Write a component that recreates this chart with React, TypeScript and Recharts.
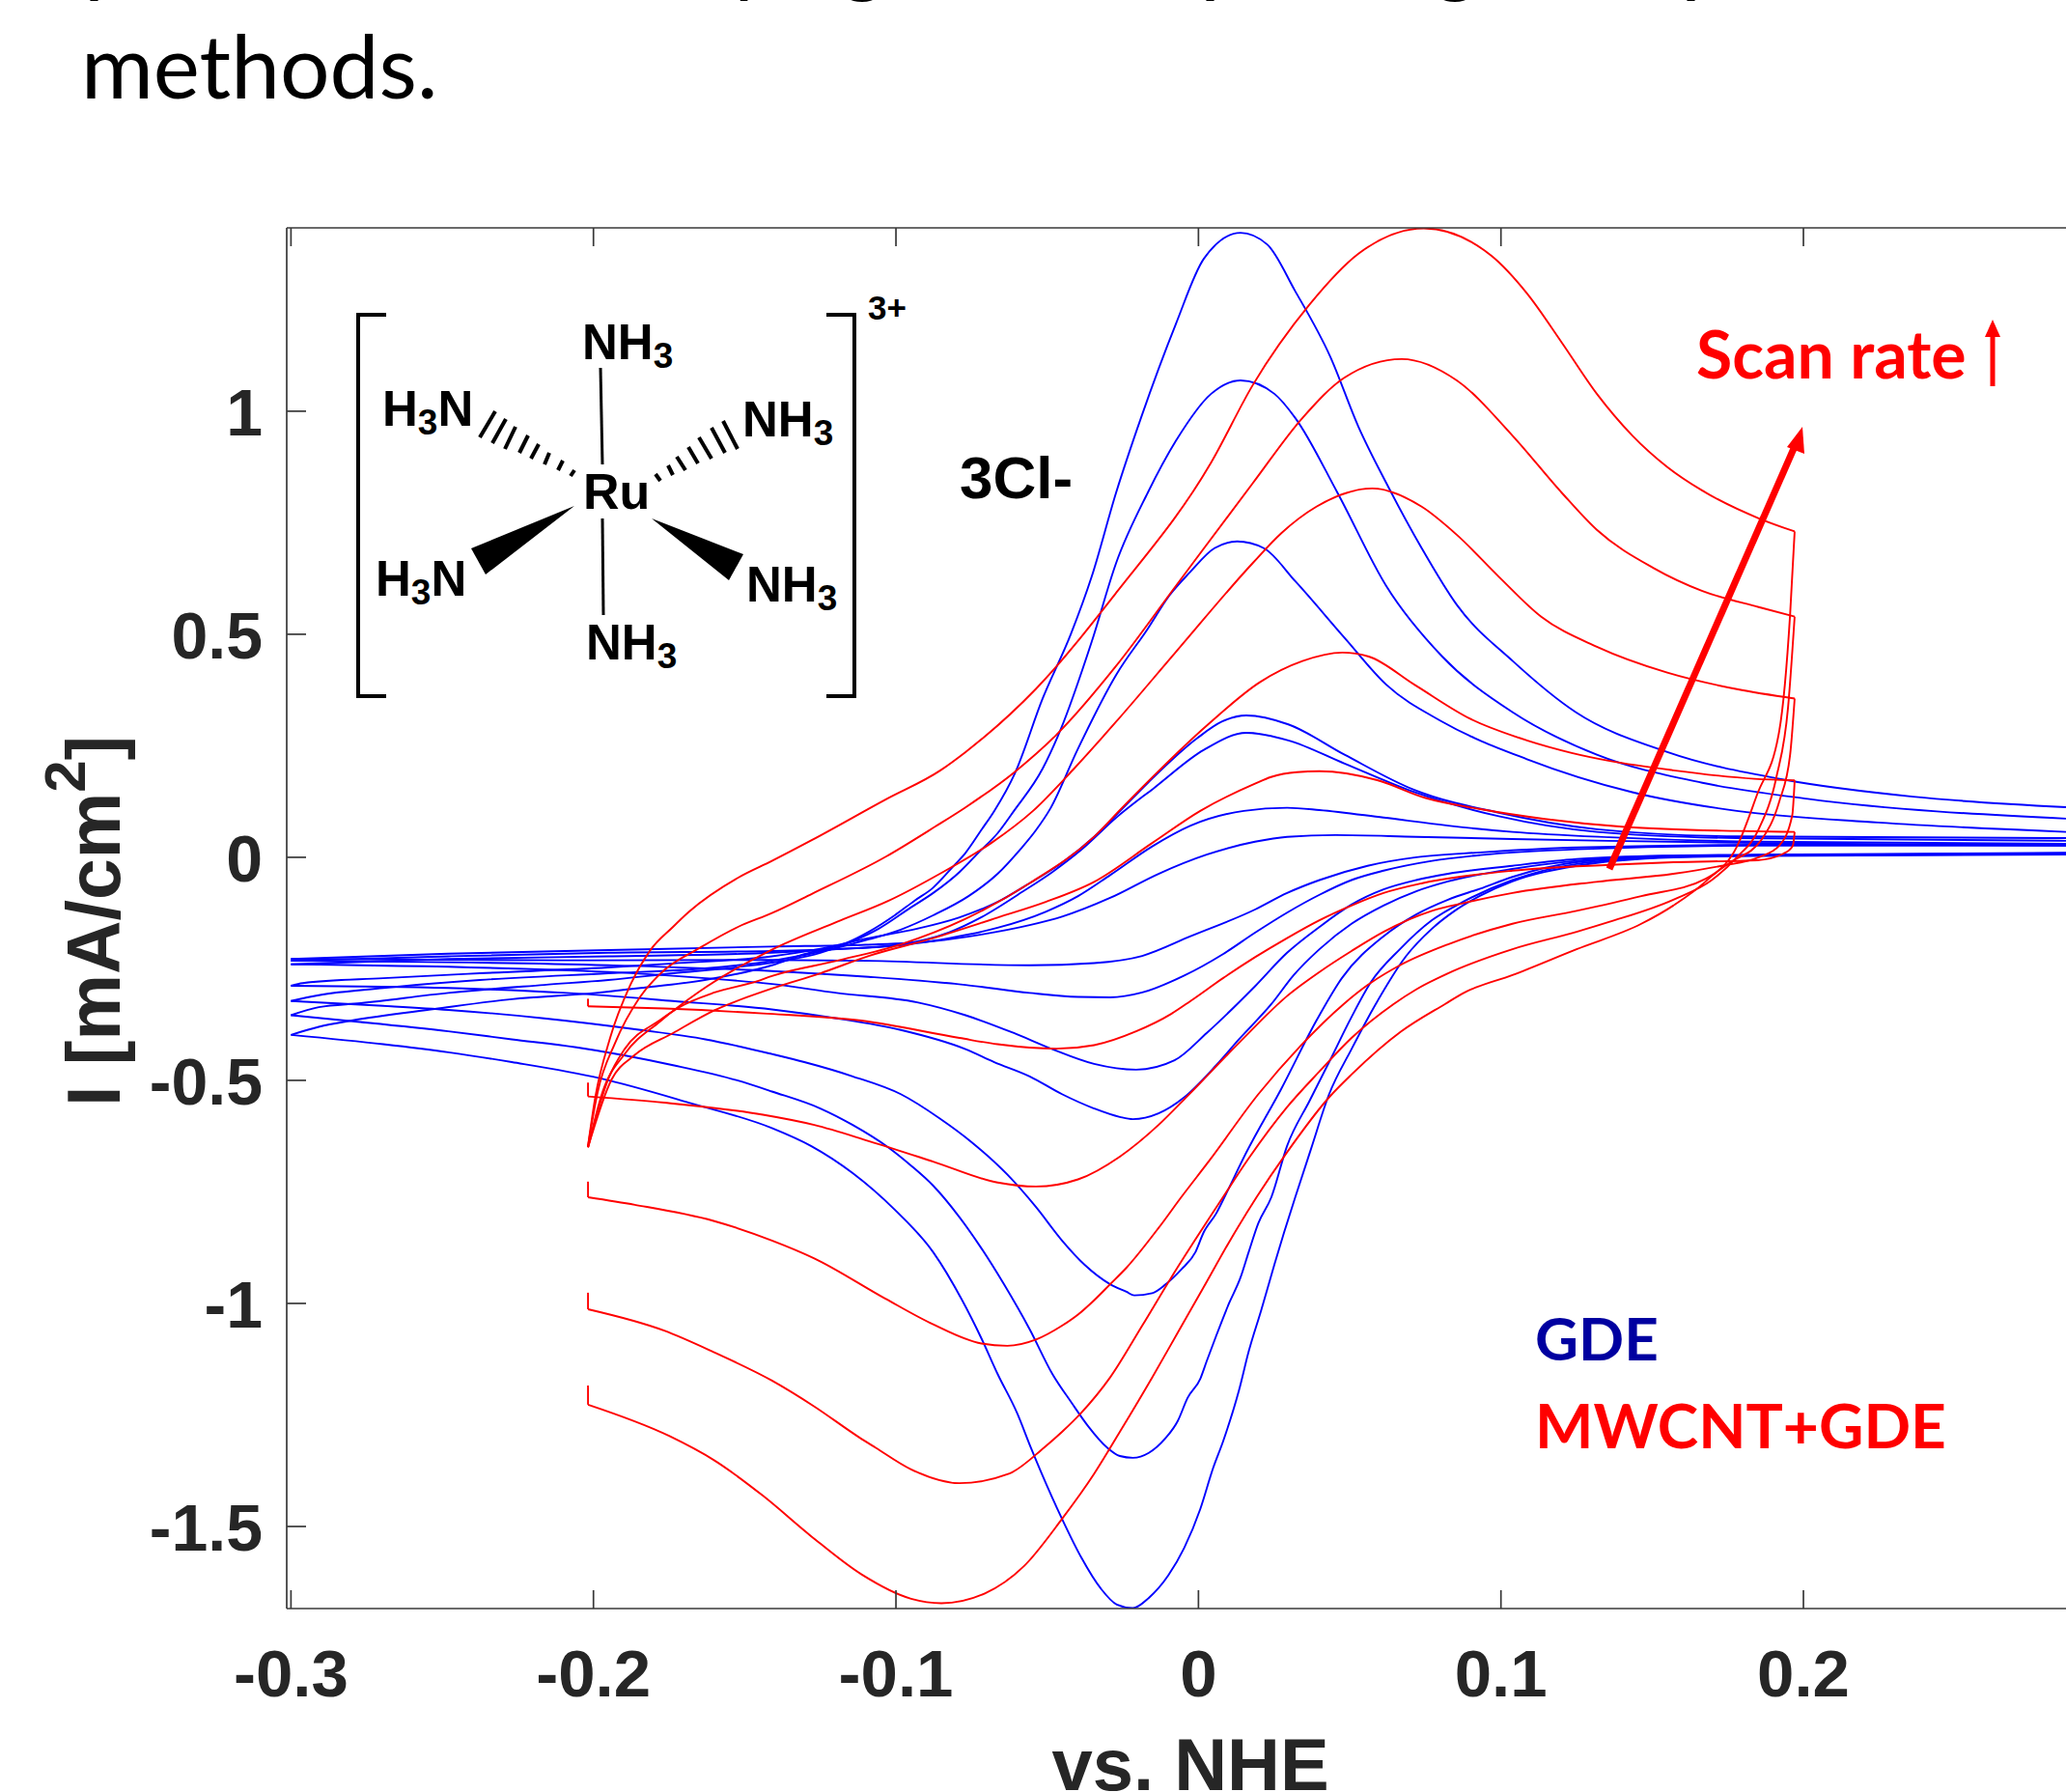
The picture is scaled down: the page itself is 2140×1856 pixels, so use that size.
import { LineChart, Line, XAxis, YAxis } from 'recharts'

type Pair = [number, number]

// potential (V vs. NHE), current density (mA/cm2)
const gdeOxA: Pair[] = [[-0.3,-0.398],[-0.2908,-0.38],[-0.28,-0.366],[-0.2525,-0.34],[-0.227,-0.318],[-0.1993,-0.304],[-0.1844,-0.293],[-0.1632,-0.275],[-0.141,-0.242],[-0.1303,-0.217],[-0.1164,-0.192],[-0.109,-0.167],[-0.1004,-0.13],[-0.094,-0.098],[-0.0877,-0.068],[-0.0813,-0.022],[-0.077,0.01],[-0.0717,0.062],[-0.0675,0.104],[-0.0607,0.188],[-0.0515,0.356],[-0.0422,0.5],[-0.0353,0.629],[-0.0272,0.818],[-0.019,0.985],[-0.0075,1.195],[0.0018,1.342],[0.0139,1.4],[0.0227,1.374],[0.032,1.269],[0.0436,1.122],[0.0529,0.965],[0.0621,0.839],[0.0738,0.693],[0.0854,0.566],[0.1039,0.44],[0.1248,0.325],[0.155,0.236],[0.1945,0.173],[0.2362,0.136],[0.2868,0.1125]]
const gdeOxB: Pair[] = [[-0.3,-0.354],[-0.2908,-0.336],[-0.2769,-0.327],[-0.248,-0.304],[-0.2163,-0.286],[-0.1951,-0.275],[-0.1737,-0.26],[-0.1524,-0.246],[-0.1355,-0.23],[-0.125,-0.214],[-0.1143,-0.188],[-0.1057,-0.16],[-0.0952,-0.113],[-0.0877,-0.08],[-0.079,-0.033],[-0.0728,0.01],[-0.0664,0.054],[-0.061,0.104],[-0.0515,0.199],[-0.0457,0.284],[-0.0353,0.483],[-0.0272,0.66],[-0.0167,0.818],[-0.0075,0.933],[0.0042,1.039],[0.0139,1.069],[0.0251,1.039],[0.032,0.985],[0.0459,0.818],[0.0621,0.608],[0.0806,0.45],[0.1039,0.325],[0.1317,0.23],[0.1666,0.167],[0.2014,0.131],[0.2868,0.0866]]
const gdeOxC: Pair[] = [[-0.3,-0.322],[-0.2908,-0.309],[-0.2695,-0.293],[-0.2376,-0.275],[-0.1951,-0.26],[-0.1632,-0.249],[-0.141,-0.232],[-0.1196,-0.203],[-0.109,-0.184],[-0.0984,-0.162],[-0.0877,-0.13],[-0.076,-0.087],[-0.0664,-0.037],[-0.059,0.017],[-0.0537,0.061],[-0.0489,0.11],[-0.04,0.241],[-0.0272,0.409],[-0.0167,0.513],[-0.0096,0.587],[-0.0028,0.639],[0.0053,0.693],[0.0128,0.708],[0.0216,0.693],[0.032,0.619],[0.0483,0.492],[0.0621,0.387],[0.0806,0.304],[0.1086,0.22],[0.1434,0.146],[0.178,0.104],[0.2246,0.078],[0.2868,0.057]]
const gdeOxD: Pair[] = [[-0.3,-0.288],[-0.2961,-0.282],[-0.2695,-0.271],[-0.2376,-0.26],[-0.1951,-0.247],[-0.1737,-0.238],[-0.141,-0.222],[-0.125,-0.205],[-0.109,-0.181],[-0.093,-0.16],[-0.0792,-0.135],[-0.0664,-0.1],[-0.0558,-0.058],[-0.0451,-0.012],[-0.0345,0.046],[-0.027,0.096],[-0.0167,0.167],[-0.0004,0.267],[0.0077,0.304],[0.0158,0.318],[0.0297,0.298],[0.0483,0.23],[0.0714,0.151],[0.0993,0.1],[0.1317,0.063],[0.178,0.047],[0.2868,0.043]]
const gdeOxE: Pair[] = [[-0.3,-0.24],[-0.248,-0.228],[-0.195,-0.222],[-0.141,-0.214],[-0.1195,-0.206],[-0.0984,-0.195],[-0.0824,-0.168],[-0.0717,-0.134],[-0.0579,-0.076],[-0.0483,-0.033],[-0.0387,0.017],[-0.027,0.09],[-0.0144,0.157],[0.0018,0.241],[0.0158,0.279],[0.0297,0.262],[0.0483,0.21],[0.0714,0.146],[0.0993,0.092],[0.1317,0.057],[0.178,0.043],[0.2868,0.037]]
const gdeOxF: Pair[] = [[-0.3,-0.232],[-0.248,-0.222],[-0.195,-0.214],[-0.141,-0.21],[-0.0984,-0.197],[-0.0824,-0.181],[-0.0664,-0.158],[-0.0505,-0.122],[-0.0398,-0.087],[-0.0292,-0.04],[-0.0154,0.024],[-0.0026,0.071],[0.015,0.104],[0.0293,0.111],[0.04,0.106],[0.0612,0.089],[0.0825,0.071],[0.1038,0.057],[0.1357,0.045],[0.1847,0.035],[0.2868,0.03]]
const gdeOxG: Pair[] = [[-0.3,-0.228],[-0.248,-0.216],[-0.195,-0.208],[-0.141,-0.2],[-0.11,-0.196],[-0.0877,-0.188],[-0.0717,-0.173],[-0.0558,-0.152],[-0.0451,-0.133],[-0.0292,-0.091],[-0.0132,-0.037],[0.0027,0.006],[0.0187,0.035],[0.0293,0.046],[0.0453,0.05],[0.072,0.046],[0.1038,0.041],[0.1357,0.037],[0.1847,0.032],[0.2868,0.026]]

const gdeRedA: Pair[] = [[-0.3,-0.398],[-0.2695,-0.419],[-0.248,-0.437],[-0.227,-0.459],[-0.198,-0.495],[-0.1684,-0.55],[-0.141,-0.607],[-0.1281,-0.647],[-0.1143,-0.708],[-0.1004,-0.79],[-0.0877,-0.885],[-0.0781,-0.993],[-0.0717,-1.079],[-0.0664,-1.158],[-0.06,-1.245],[-0.0553,-1.325],[-0.0451,-1.483],[-0.0387,-1.57],[-0.0323,-1.639],[-0.027,-1.675],[-0.0217,-1.683],[-0.0164,-1.66],[-0.01,-1.61],[-0.0047,-1.548],[0.0006,-1.461],[0.0049,-1.368],[0.0081,-1.31],[0.0134,-1.195],[0.0166,-1.108],[0.0208,-1.014],[0.0251,-0.913],[0.0283,-0.841],[0.032,-0.762],[0.0372,-0.654],[0.0432,-0.531],[0.0506,-0.43],[0.0586,-0.329],[0.0687,-0.221],[0.0772,-0.16],[0.0847,-0.12],[0.0932,-0.086],[0.1038,-0.054],[0.125,-0.019],[0.157,0],[0.1847,0.003],[0.2868,0.006]]
const gdeRedB: Pair[] = [[-0.3,-0.354],[-0.2788,-0.368],[-0.248,-0.39],[-0.227,-0.408],[-0.2056,-0.426],[-0.1737,-0.466],[-0.1525,-0.5],[-0.141,-0.525],[-0.125,-0.563],[-0.1143,-0.6],[-0.1026,-0.65],[-0.0952,-0.69],[-0.0877,-0.736],[-0.0792,-0.805],[-0.0717,-0.877],[-0.0643,-0.957],[-0.0558,-1.058],[-0.0483,-1.158],[-0.0419,-1.223],[-0.0366,-1.274],[-0.0302,-1.323],[-0.026,-1.342],[-0.0217,-1.346],[-0.0164,-1.335],[-0.011,-1.303],[-0.0068,-1.263],[-0.0036,-1.212],[0.0006,-1.169],[0.0027,-1.13],[0.0059,-1.072],[0.0101,-1],[0.0139,-0.942],[0.0166,-0.885],[0.0198,-0.82],[0.0241,-0.762],[0.0293,-0.647],[0.0368,-0.545],[0.0432,-0.459],[0.0506,-0.358],[0.057,-0.28],[0.0666,-0.206],[0.0772,-0.141],[0.088,-0.098],[0.1038,-0.051],[0.125,-0.015],[0.157,0.001],[0.1847,0.004],[0.2868,0.007]]
const gdeRedC: Pair[] = [[-0.3,-0.322],[-0.2695,-0.333],[-0.248,-0.342],[-0.2163,-0.361],[-0.1844,-0.387],[-0.163,-0.408],[-0.141,-0.441],[-0.1303,-0.459],[-0.1143,-0.491],[-0.0984,-0.531],[-0.0856,-0.585],[-0.0749,-0.639],[-0.0632,-0.711],[-0.0537,-0.784],[-0.0451,-0.859],[-0.0377,-0.913],[-0.0292,-0.957],[-0.0238,-0.974],[-0.0212,-0.982],[-0.0153,-0.977],[-0.011,-0.958],[-0.0057,-0.924],[-0.001,-0.885],[0.0017,-0.841],[0.0059,-0.798],[0.0091,-0.755],[0.0158,-0.662],[0.0273,-0.52],[0.039,-0.366],[0.0474,-0.271],[0.0612,-0.177],[0.072,-0.128],[0.0825,-0.095],[0.0932,-0.07],[0.1038,-0.044],[0.125,-0.011],[0.157,0.002],[0.1847,0.005],[0.2868,0.008]]
const gdeRedD: Pair[] = [[-0.3,-0.288],[-0.248,-0.293],[-0.2089,-0.304],[-0.1737,-0.322],[-0.141,-0.341],[-0.1196,-0.361],[-0.0984,-0.387],[-0.077,-0.43],[-0.0675,-0.459],[-0.0558,-0.491],[-0.0451,-0.531],[-0.0345,-0.563],[-0.026,-0.582],[-0.0217,-0.587],[-0.0132,-0.574],[-0.0047,-0.538],[0.0059,-0.466],[0.0134,-0.408],[0.0241,-0.329],[0.0315,-0.264],[0.04,-0.206],[0.0506,-0.149],[0.0612,-0.108],[0.072,-0.076],[0.0825,-0.054],[0.1038,-0.026],[0.125,-0.008],[0.157,0.003],[0.1847,0.005],[0.2868,0.009]]
const gdeRedE: Pair[] = [[-0.3,-0.24],[-0.1951,-0.257],[-0.163,-0.271],[-0.141,-0.284],[-0.1196,-0.304],[-0.093,-0.325],[-0.077,-0.354],[-0.061,-0.394],[-0.0483,-0.43],[-0.0345,-0.463],[-0.0206,-0.476],[-0.0079,-0.455],[0.0027,-0.394],[0.0187,-0.289],[0.0293,-0.214],[0.04,-0.156],[0.0506,-0.106],[0.0612,-0.072],[0.072,-0.051],[0.0825,-0.037],[0.1038,-0.019],[0.125,-0.004],[0.157,0.004],[0.1847,0.006],[0.2868,0.01]]
const gdeRedF: Pair[] = [[-0.3,-0.232],[-0.1951,-0.242],[-0.141,-0.255],[-0.109,-0.268],[-0.077,-0.286],[-0.0558,-0.304],[-0.0398,-0.313],[-0.0292,-0.314],[-0.0186,-0.303],[-0.0047,-0.265],[0.0081,-0.217],[0.0187,-0.169],[0.0293,-0.124],[0.04,-0.084],[0.0506,-0.051],[0.0612,-0.03],[0.0772,-0.008],[0.0932,0.005],[0.125,0.018],[0.1847,0.026],[0.2868,0.026]]
const gdeRedG: Pair[] = [[-0.3,-0.228],[-0.2,-0.231],[-0.141,-0.23],[-0.109,-0.232],[-0.0558,-0.242],[-0.0345,-0.237],[-0.0186,-0.221],[-0.0026,-0.177],[0.0187,-0.117],[0.0293,-0.08],[0.04,-0.051],[0.0559,-0.019],[0.072,0],[0.0932,0.011],[0.125,0.022],[0.1847,0.028],[0.2868,0.028]]

const cntOxA: Pair[] = [[-0.2018,-0.65],[-0.194,-0.498],[-0.1865,-0.444],[-0.1737,-0.394],[-0.16,-0.343],[-0.1418,-0.296],[-0.125,-0.26],[-0.109,-0.221],[-0.0877,-0.181],[-0.0664,-0.135],[-0.0505,-0.1],[-0.0345,-0.055],[-0.0153,0.032],[0.0006,0.104],[0.0187,0.165],[0.024,0.18],[0.0325,0.191],[0.04,0.193],[0.0591,0.173],[0.0751,0.133],[0.0932,0.108],[0.1145,0.086],[0.141,0.068],[0.178,0.059],[0.1971,0.057]]
const cntOxB: Pair[] = [[-0.2018,-0.65],[-0.195,-0.495],[-0.1897,-0.43],[-0.178,-0.365],[-0.1716,-0.336],[-0.16,-0.303],[-0.146,-0.278],[-0.141,-0.266],[-0.1196,-0.232],[-0.0984,-0.195],[-0.077,-0.138],[-0.0558,-0.058],[-0.0345,0.046],[-0.0254,0.11],[0.0032,0.298],[0.0204,0.393],[0.0344,0.44],[0.0476,0.459],[0.0563,0.45],[0.0714,0.387],[0.09,0.31],[0.1086,0.262],[0.1234,0.234],[0.136,0.216],[0.157,0.195],[0.1837,0.176],[0.1971,0.1725]]
const cntOxC: Pair[] = [[-0.2018,-0.65],[-0.197,-0.526],[-0.1897,-0.441],[-0.178,-0.368],[-0.165,-0.301],[-0.141,-0.207],[-0.1196,-0.145],[-0.1026,-0.098],[-0.0855,-0.037],[-0.0685,0.032],[-0.0547,0.104],[-0.0411,0.199],[-0.0272,0.304],[-0.0075,0.46],[0.018,0.66],[0.0273,0.726],[0.039,0.786],[0.0575,0.827],[0.0738,0.786],[0.0854,0.723],[0.0993,0.629],[0.1132,0.54],[0.1317,0.472],[0.155,0.414],[0.178,0.377],[0.1971,0.356]]
const cntOxD: Pair[] = [[-0.2018,-0.647],[-0.1986,-0.526],[-0.1929,-0.417],[-0.1847,-0.314],[-0.1766,-0.253],[-0.1651,-0.204],[-0.1522,-0.156],[-0.141,-0.125],[-0.1278,-0.082],[-0.1032,0.002],[-0.087,0.069],[-0.077,0.112],[-0.061,0.19],[-0.0469,0.275],[-0.0272,0.429],[-0.0075,0.608],[0.018,0.839],[0.0344,0.985],[0.0482,1.075],[0.0672,1.117],[0.0854,1.069],[0.104,0.944],[0.12,0.818],[0.1317,0.734],[0.1503,0.649],[0.1666,0.597],[0.1852,0.561],[0.1971,0.5396]]
const cntOxE: Pair[] = [[-0.2018,-0.647],[-0.1994,-0.538],[-0.1945,-0.405],[-0.188,-0.289],[-0.1814,-0.21],[-0.1737,-0.156],[-0.1684,-0.122],[-0.152,-0.045],[-0.141,-0.008],[-0.1277,0.039],[-0.1033,0.13],[-0.0853,0.195],[-0.077,0.236],[-0.0538,0.377],[-0.0272,0.593],[0.0042,0.885],[0.018,1.059],[0.0366,1.238],[0.0529,1.353],[0.0745,1.41],[0.0969,1.348],[0.1086,1.264],[0.1202,1.153],[0.1317,1.039],[0.1435,0.945],[0.155,0.875],[0.1666,0.822],[0.1852,0.76],[0.1971,0.7305]]

const cntRedA: Pair[] = [[-0.2018,-0.334],[-0.1766,-0.339],[-0.144,-0.35],[-0.1115,-0.366],[-0.079,-0.405],[-0.0664,-0.419],[-0.047,-0.429],[-0.0345,-0.421],[-0.0206,-0.39],[-0.009,-0.351],[-0.0026,-0.322],[0.0081,-0.271],[0.0187,-0.224],[0.0293,-0.181],[0.04,-0.141],[0.0506,-0.108],[0.0612,-0.08],[0.074,-0.058],[0.1038,-0.03],[0.1357,-0.017],[0.157,-0.011],[0.1847,-0.0065],[0.1933,0.008],[0.1965,0.026],[0.1971,0.057]]
const cntRedB: Pair[] = [[-0.2018,-0.536],[-0.1766,-0.55],[-0.144,-0.577],[-0.127,-0.6],[-0.109,-0.636],[-0.0877,-0.682],[-0.0664,-0.729],[-0.0537,-0.738],[-0.0398,-0.722],[-0.026,-0.671],[-0.0132,-0.6],[-0.0036,-0.535],[0.0134,-0.416],[0.0293,-0.311],[0.04,-0.257],[0.0506,-0.21],[0.0612,-0.167],[0.0772,-0.12],[0.088,-0.102],[0.1038,-0.08],[0.1315,-0.055],[0.157,-0.037],[0.173,-0.019],[0.1852,0],[0.192,0.026],[0.1963,0.094],[0.1971,0.1725]]
const cntRedC: Pair[] = [[-0.2018,-0.762],[-0.1863,-0.779],[-0.1603,-0.815],[-0.141,-0.859],[-0.127,-0.899],[-0.1036,-0.989],[-0.0877,-1.047],[-0.0717,-1.09],[-0.0632,-1.095],[-0.0537,-1.081],[-0.0451,-1.05],[-0.0398,-1.025],[-0.0345,-0.993],[-0.0292,-0.957],[-0.0238,-0.92],[-0.0132,-0.831],[-0.0057,-0.762],[0.0037,-0.679],[0.0198,-0.531],[0.0337,-0.423],[0.048,-0.329],[0.056,-0.286],[0.0666,-0.242],[0.0825,-0.195],[0.1038,-0.149],[0.125,-0.12],[0.1464,-0.087],[0.1677,-0.048],[0.1759,-0.011],[0.1863,0.041],[0.192,0.125],[0.1956,0.23],[0.1971,0.356]]
const cntRedD: Pair[] = [[-0.2018,-1.013],[-0.1766,-1.061],[-0.1603,-1.109],[-0.141,-1.173],[-0.127,-1.231],[-0.1122,-1.3],[-0.1068,-1.323],[-0.095,-1.372],[-0.079,-1.403],[-0.0627,-1.382],[-0.051,-1.323],[-0.0451,-1.288],[-0.0387,-1.245],[-0.0292,-1.166],[-0.0186,-1.05],[-0.009,-0.942],[0.0081,-0.762],[0.0166,-0.675],[0.0293,-0.56],[0.04,-0.48],[0.0506,-0.405],[0.0645,-0.329],[0.072,-0.296],[0.0825,-0.26],[0.1038,-0.206],[0.125,-0.167],[0.1357,-0.145],[0.157,-0.095],[0.1697,-0.051],[0.178,0],[0.1852,0.063],[0.191,0.178],[0.1949,0.335],[0.1971,0.5396]]
const cntRedE: Pair[] = [[-0.2018,-1.227],[-0.175,-1.297],[-0.16,-1.352],[-0.144,-1.431],[-0.128,-1.522],[-0.1115,-1.607],[-0.095,-1.662],[-0.085,-1.672],[-0.0706,-1.65],[-0.0577,-1.589],[-0.0451,-1.483],[-0.0345,-1.382],[-0.026,-1.288],[-0.0153,-1.166],[-0.0068,-1.065],[0.0017,-0.964],[0.0101,-0.863],[0.0192,-0.762],[0.0293,-0.661],[0.0432,-0.538],[0.0506,-0.487],[0.0669,-0.391],[0.0815,-0.329],[0.088,-0.303],[0.1038,-0.264],[0.125,-0.206],[0.1464,-0.149],[0.157,-0.108],[0.1677,-0.054],[0.178,0.024],[0.1847,0.141],[0.192,0.283],[0.1956,0.545],[0.1971,0.7305]]

// short vertical stubs where the red loops start
const hookA: Pair[] = [[-0.2018,-0.317],[-0.2018,-0.334]]
const hookB: Pair[] = [[-0.2018,-0.505],[-0.2018,-0.536]]
const hookC: Pair[] = [[-0.2018,-0.727],[-0.2018,-0.762]]
const hookD: Pair[] = [[-0.2018,-0.976],[-0.2018,-1.013]]
const hookE: Pair[] = [[-0.2018,-1.184],[-0.2018,-1.227]]

const xTicks = [-0.3, -0.2, -0.1, 0, 0.1, 0.2]
const yTicks = [-1.5, -1, -0.5, 0, 0.5, 1]

const gdeCurves = [gdeOxA, gdeOxB, gdeOxC, gdeOxD, gdeOxE, gdeOxF, gdeOxG, gdeRedA, gdeRedB, gdeRedC, gdeRedD, gdeRedE, gdeRedF, gdeRedG]
const cntCurves = [cntOxA, cntOxB, cntOxC, cntOxD, cntOxE, cntRedA, cntRedB, cntRedC, cntRedD, cntRedE]
const hooks = [hookA, hookB, hookC, hookD, hookE]

const toPoints = (pairs: Pair[]) => pairs.map(([x, y]) => ({ x, y }))

const AXIS = '#383838'
const LABEL = '#262626'
const ARIAL = '"Liberation Sans", Arial, sans-serif'
const LATO = 'Lato, sans-serif'

function BottomTick({ x, y, payload }: any) {
  return (
    <g>
      <line x1={x} x2={x} y1={y} y2={y - 19} stroke={AXIS} strokeWidth={1.7} />
      <text x={x} y={y + 91} textAnchor="middle" fontFamily={ARIAL} fontWeight="bold" fontSize={69} fill={LABEL}>
        {payload.value}
      </text>
    </g>
  )
}

function TopTick({ x, y }: any) {
  return <line x1={x} x2={x} y1={y} y2={y + 19} stroke={AXIS} strokeWidth={1.7} />
}

function LeftTick({ x, y, payload }: any) {
  return (
    <g>
      <line x1={x} x2={x + 20} y1={y} y2={y} stroke={AXIS} strokeWidth={1.7} />
      <text x={x - 25} y={y + 25} textAnchor="end" fontFamily={ARIAL} fontWeight="bold" fontSize={68} fill={LABEL}>
        {payload.value}
      </text>
    </g>
  )
}

function Nh3({ x, y, flip }: { x: number; y: number; flip?: boolean }) {
  return (
    <text x={x} y={y} fontFamily={ARIAL} fontWeight="bold" fontSize={51} fill="#000">
      {flip ? 'H' : 'NH'}
      <tspan fontSize={37} dy={9}>3</tspan>
      {flip ? <tspan dy={-9}>N</tspan> : null}
    </text>
  )
}

const leftHashes = [[513,426,497,453],[524,434,510,459],[534,442,523,465],[547,451,538,469],[558,460,550,475],[569,469,564,481],[583,477,578,487],[595,487,591,493]]
const rightHashes = [[749,436,764,465],[737,443,751,469],[724,453,737,475],[713,463,723,480],[701,473,710,487],[692,482,697,492],[679,491,684,498]]

function Overlay() {
  return (
    <svg width={2140} height={1856} style={{ position: 'absolute', left: 0, top: 0, pointerEvents: 'none' }}>
      {/* tips of the cut-off line above */}
      <g fontFamily={LATO} fontSize={91} fill="#000">
        <text x={87} y={-15}>p</text>
        <text x={755} y={-15}>y</text>
        <text x={870} y={-15}>g</text>
        <text x={1243} y={-15}>p</text>
        <text x={1484} y={-15}>g</text>
        <text x={1741} y={-15}>p</text>
      </g>
      <text x={84} y={102} fontFamily={LATO} fontSize={91} fill="#000">methods.</text>

      <path d="M400 326H371V721H400" fill="none" stroke="#000" strokeWidth={4} />
      <path d="M856 326H885V721H856" fill="none" stroke="#000" strokeWidth={4} />
      <text x={899} y={331} fontFamily={ARIAL} fontWeight="bold" fontSize={35} fill="#000">3+</text>
      <Nh3 x={603} y={372} />
      <Nh3 x={396} y={441} flip />
      <Nh3 x={769} y={452} />
      <Nh3 x={389} y={617} flip />
      <Nh3 x={773} y={623} />
      <Nh3 x={607} y={683} />
      <text x={604} y={527} fontFamily={ARIAL} fontWeight="bold" fontSize={52} fill="#000">Ru</text>
      <line x1={622} y1={381} x2={624} y2={481} stroke="#000" strokeWidth={3} />
      <line x1={624} y1={537} x2={625} y2={637} stroke="#000" strokeWidth={3} />
      <polygon points="595,524 488,568 503,595" fill="#000" />
      <polygon points="675,537 770,574 755,601" fill="#000" />
      {[...leftHashes, ...rightHashes].map(([a, b, c, d], i) => (
        <line key={i} x1={a} y1={b} x2={c} y2={d} stroke="#000" strokeWidth={4} />
      ))}
      <text x={994} y={516} fontFamily={ARIAL} fontWeight="bold" fontSize={62} fill="#000">3Cl-</text>

      <text x={1757} y={392} fontFamily={LATO} fontWeight="bold" fontSize={68} fill="#ff0000">Scan rate</text>
      <line x1={2064} y1={348} x2={2064} y2={400} stroke="#ff0000" strokeWidth={5} />
      <polygon points="2064,331 2056,349 2072,349" fill="#ff0000" />
      <line x1={1667} y1={900} x2={1860} y2={460} stroke="#ff0000" strokeWidth={7} />
      <polygon points="1867,442 1851,463 1869,470" fill="#ff0000" />

      <text x={1590} y={1409} fontFamily={LATO} fontWeight="bold" fontSize={62} fill="#0000a0">GDE</text>
      <text x={1590} y={1500} fontFamily={LATO} fontWeight="bold" fontSize={64} fill="#ff0000">MWCNT+GDE</text>

      <text x={1233} y={1854} textAnchor="middle" fontFamily={ARIAL} fontWeight="bold" fontSize={76} fill={LABEL}>vs. NHE</text>
      <text transform="translate(124 1146) rotate(-90)" fontFamily={ARIAL} fontWeight="bold" fontSize={77} fill={LABEL}>
        I [mA/cm<tspan fontSize={60} dy={-36}>2</tspan><tspan dy={36}>]</tspan>
      </text>
    </svg>
  )
}

export default function App() {
  return (
    <div style={{ position: 'absolute', left: 0, top: 0, width: 2140, height: 1856, overflow: 'hidden', background: '#fff' }}>
      <LineChart width={2140} height={1856} margin={{ top: 0, right: 0, bottom: 0, left: 0 }}>
        <XAxis
          dataKey="x"
          type="number"
          domain={[-0.3014, 0.2868]}
          ticks={xTicks}
          interval={0}
          height={190}
          allowDataOverflow
          stroke={AXIS}
          strokeWidth={1.7}
          tickLine={false}
          tickSize={0}
          tickMargin={0}
          tick={<BottomTick />}
        />
        <XAxis
          xAxisId="top"
          orientation="top"
          dataKey="x"
          type="number"
          domain={[-0.3014, 0.2868]}
          ticks={xTicks}
          interval={0}
          height={236}
          allowDataOverflow
          stroke={AXIS}
          strokeWidth={1.7}
          tickLine={false}
          tickSize={0}
          tickMargin={0}
          tick={<TopTick />}
        />
        <YAxis
          type="number"
          domain={[-1.684, 1.411]}
          ticks={yTicks}
          interval={0}
          width={297}
          allowDataOverflow
          stroke={AXIS}
          strokeWidth={1.7}
          tickLine={false}
          tickSize={0}
          tickMargin={0}
          tick={<LeftTick />}
        />
        {gdeCurves.map((curve, i) => (
          <Line key={`gde-${i}`} data={toPoints(curve)} dataKey="y" type="monotone" stroke="#0000ff" strokeWidth={1.9} dot={false} activeDot={false} isAnimationActive={false} />
        ))}
        {cntCurves.map((curve, i) => (
          <Line key={`cnt-${i}`} data={toPoints(curve)} dataKey="y" type="monotone" stroke="#ff0000" strokeWidth={1.9} dot={false} activeDot={false} isAnimationActive={false} />
        ))}
        {hooks.map((curve, i) => (
          <Line key={`hook-${i}`} data={toPoints(curve)} dataKey="y" type="linear" stroke="#ff0000" strokeWidth={1.9} dot={false} activeDot={false} isAnimationActive={false} />
        ))}
      </LineChart>
      <Overlay />
    </div>
  )
}
